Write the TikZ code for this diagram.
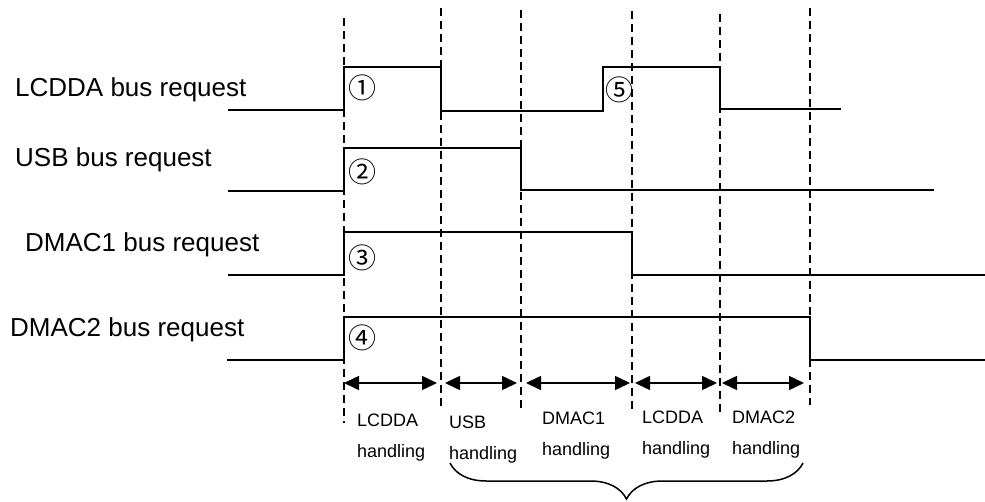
\documentclass[tikz,border=0pt]{standalone}
\usepackage{fontspec}
\setmainfont{Liberation Sans}
\newfontfamily\circfont{Noto Sans CJK SC}
\usetikzlibrary{arrows.meta,decorations.pathreplacing}

\begin{document}
\begin{tikzpicture}[x=1pt,y=-1pt,
  signal/.style={line width=1.6pt},
  guide/.style={line width=1.5pt, dash pattern=on 8pt off 5pt},
  span/.style={line width=1.5pt, {Triangle[length=15pt,width=14pt]}-{Triangle[length=15pt,width=14pt]}},
  reqlabel/.style={anchor=base west, inner sep=0pt, font=\fontsize{26}{30}\selectfont},
  marker/.style={inner sep=0pt, font=\circfont\fontsize{28}{28}\selectfont},
  phase/.style={anchor=north west, inner sep=0pt, align=left, font=\fontsize{18}{31}\selectfont}]
\useasboundingbox (0,0) rectangle (985,502);
% dashed guides: x / top / bottom
\foreach \x/\t/\b [count=\i] in {344/18/423, 441/8/408, 521/10/408, 632/11/410, 720/14/413, 810/8/405} {
  \coordinate (top\i) at (\x,\t);
  \coordinate (bot\i) at (\x,\b);
  \draw[guide] (top\i) -- (bot\i);
}
% request labels
\node[reqlabel] (lcdda) at (15,97) {LCDDA bus request};
\node[reqlabel] (usb) at (15,167) {USB bus request};
\node[reqlabel] (dmaca) at (25,252) {DMAC1 bus request};
\node[reqlabel] (dmacb) at (10,337) {DMAC2 bus request};
% waveforms
\draw[signal] (228,110) -- (344,110) -- (344,67) -- (441,67) -- (441,111) -- (603,111) -- (603,67) -- (720,67) -- (720,109) -- (841,109);
\draw[signal] (228,191) -- (344,191) -- (344,148) -- (521,148) -- (521,190) -- (934,190);
\draw[signal] (228,275) -- (344,275) -- (344,232) -- (632,232) -- (632,275) -- (985,275);
\draw[signal] (227,360) -- (344,360) -- (344,317) -- (810,317) -- (810,360) -- (985,360);
% request markers
\node[marker] (m1) at (362,88) {①};
\node[marker] (m2) at (362,172) {②};
\node[marker] (m3) at (362,258) {③};
\node[marker] (m4) at (362,338) {④};
\node[marker] (m5) at (619,90) {⑤};
% handling spans
\coordinate (a1) at (344,383);
\coordinate (a2) at (437,383);
\coordinate (a3) at (445,383);
\coordinate (a4) at (517,383);
\coordinate (a5) at (526,383);
\coordinate (a6) at (630,383);
\coordinate (a7) at (635,383);
\coordinate (a8) at (717,383);
\coordinate (a9) at (722,383);
\coordinate (a10) at (804,383);
\draw[span] (a1) -- (a2);
\draw[span] (a3) -- (a4);
\draw[span] (a5) -- (a6);
\draw[span] (a7) -- (a8);
\draw[span] (a9) -- (a10);
\node[phase] (h1) at (357,414) {LCDDA\\handling};
\node[phase] (h2) at (449,416) {USB\\handling};
\node[phase] (h3) at (542,412) {DMAC1\\handling};
\node[phase] (h4) at (642,411) {LCDDA\\handling};
\node[phase] (h5) at (732,411) {DMAC2\\handling};
% brace under the last four
\coordinate (bl) at (450,463);
\coordinate (br) at (803,463);
\draw[line width=1.5pt, decorate, decoration={brace, mirror, amplitude=36pt}] (bl) -- (br);
\end{tikzpicture}
\end{document}
